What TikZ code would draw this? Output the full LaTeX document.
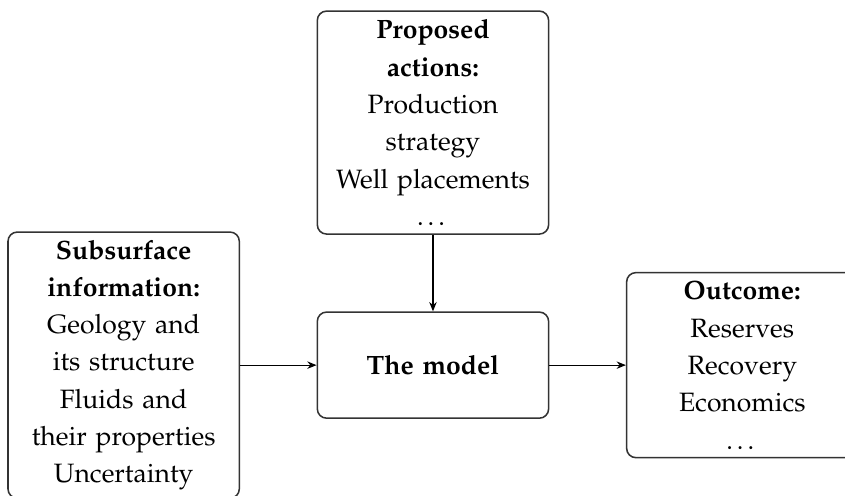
\documentclass[tikz,border=0pt]{standalone}
\usepackage[T1]{fontenc}
\usepackage{mathpazo}
\usepackage{tikz}
\usetikzlibrary{arrows.meta,positioning}
\tikzset{
  box/.style={draw=black!80, line width=0.5pt, rounded corners=3pt,
    text width=73pt, inner xsep=1pt, inner ysep=0pt, align=center,
    font=\fontsize{8.6pt}{12.1pt}\selectfont},
  flow/.style={-{Stealth[length=3pt,width=2.4pt]}, line width=0.4pt}
}

\begin{document}
\begin{tikzpicture}[node distance=24.8pt]
                \useasboundingbox (-140.4pt,-42.2pt) rectangle (133.6pt,118.4pt);

                % The model in the middle
                \node[box, minimum height=34.4pt] (model) at (0,0) {\textbf{The model}};

                % Inputs and output
                \node[box, minimum height=72.3pt, above=of model] (actions) {\textbf{Proposed}\\\textbf{actions:}\\Production\\strategy\\Well placements\\\ldots};
                \node[box, minimum height=86.3pt, left=of model] (subsurface) {\textbf{Subsurface}\\\textbf{information:}\\Geology and\\its structure\\Fluids and\\their properties\\Uncertainty};
                \node[box, minimum height=60pt, right=of model] (outcome) {\textbf{Outcome:}\\Reserves\\Recovery\\Economics\\\ldots};

                % Connectors
                \draw[flow] (actions) -- (model);
                \draw[flow] (subsurface) -- (model);
                \draw[flow] (model) -- (outcome);
            \end{tikzpicture}
\end{document}
